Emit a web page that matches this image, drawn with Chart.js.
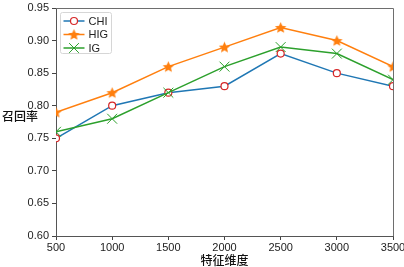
<!DOCTYPE html>
<html lang="zh">
<head>
<meta charset="UTF-8">
<title>召回率 - 特征维度</title>
<script src="https://cdn.jsdelivr.net/npm/chart.js"></script>
<style>
  html, body { margin: 0; padding: 0; background: #fff; }
  #wrap { width: 404px; height: 267px; }
</style>
</head>
<body>
<div id="wrap"><canvas id="chart" width="404" height="267"></canvas></div>
<script>
const dims = [500, 1000, 1500, 2000, 2500, 3000, 3500];
const chiVals = [0.75, 0.80, 0.82, 0.83, 0.88, 0.85, 0.83];
const higVals = [0.79, 0.82, 0.86, 0.89, 0.92, 0.90, 0.86];
const igVals  = [0.76, 0.78, 0.82, 0.86, 0.89, 0.88, 0.84];
const seriesNames = ['CHI', 'HIG', 'IG'];
const yTicks = [0.60, 0.65, 0.70, 0.75, 0.80, 0.85, 0.90, 0.95];
const xTicks = [500, 1000, 1500, 2000, 2500, 3000, 3500];

const tickFont = { family: 'Liberation Sans', size: 11 };
const cjkFont = '500 12px "Noto Sans CJK SC"';

// filled star marker like matplotlib's '*'
function makeStar(size, color) {
  const c = document.createElement('canvas');
  c.width = size; c.height = size;
  const g = c.getContext('2d');
  const r = size / 2, ri = r * 0.42;
  g.beginPath();
  for (let i = 0; i < 10; i++) {
    const rad = i % 2 ? ri : r - 0.5;
    const a = -Math.PI / 2 + i * Math.PI / 5;
    const px = r + rad * Math.cos(a), py = r + rad * Math.sin(a) + 0.5;
    i ? g.lineTo(px, py) : g.moveTo(px, py);
  }
  g.closePath();
  g.fillStyle = color;
  g.fill();
  return c;
}
const starImg = makeStar(13, '#ff7f0e');

const pairs = vals => dims.map((d, i) => ({ x: d, y: vals[i] }));

const datasets = [
  { label: seriesNames[0], data: pairs(chiVals), borderColor: '#1f77b4', borderWidth: 1.5,
    pointStyle: 'circle', pointRadius: 3.5, pointBackgroundColor: '#fff',
    pointBorderColor: '#d62728', pointBorderWidth: 1.2, order: 3 },
  { label: seriesNames[1], data: pairs(higVals), borderColor: '#ff7f0e', borderWidth: 1.5,
    pointStyle: starImg, pointRadius: 6, order: 2 },
  { label: seriesNames[2], data: pairs(igVals), borderColor: '#2ca02c', borderWidth: 1.5,
    pointStyle: 'crossRot', pointRadius: 7, pointBorderColor: '#2ca02c',
    pointBorderWidth: 1, order: 1 }
];

function drawMarker(ctx, ds, x, y) {
  ctx.save();
  if (ds.pointStyle === 'circle') {
    ctx.beginPath();
    ctx.arc(x, y, ds.pointRadius, 0, Math.PI * 2);
    ctx.fillStyle = ds.pointBackgroundColor;
    ctx.fill();
    ctx.lineWidth = ds.pointBorderWidth;
    ctx.strokeStyle = ds.pointBorderColor;
    ctx.stroke();
  } else if (ds.pointStyle === 'crossRot') {
    const r = ds.pointRadius * 0.7;
    ctx.beginPath();
    ctx.moveTo(x - r, y - r); ctx.lineTo(x + r, y + r);
    ctx.moveTo(x + r, y - r); ctx.lineTo(x - r, y + r);
    ctx.lineWidth = ds.pointBorderWidth;
    ctx.strokeStyle = ds.pointBorderColor;
    ctx.stroke();
  } else {
    const s = ds.pointStyle;
    ctx.drawImage(s, x - s.width / 2, y - s.height / 2);
  }
  ctx.restore();
}

const decorations = {
  id: 'decorations',
  afterDatasetsDraw(chart) {
    const { ctx, chartArea: a } = chart;
    ctx.save();
    // top and right spines
    ctx.strokeStyle = '#6e6e6e';
    ctx.lineWidth = 1;
    ctx.beginPath();
    ctx.moveTo(a.left, a.top + 0.5); ctx.lineTo(a.right + 0.5, a.top + 0.5);
    ctx.lineTo(a.right + 0.5, a.bottom);
    ctx.stroke();

    // legend box
    const bx = a.left + 4.5, by = a.top + 4.5, bw = 51, bh = 41;
    ctx.beginPath();
    ctx.roundRect(bx, by, bw, bh, 2);
    ctx.fillStyle = 'rgba(255,255,255,0.85)';
    ctx.fill();
    ctx.strokeStyle = '#d6d6d6';
    ctx.stroke();
    chart.data.datasets.forEach((ds, i) => {
      const y = by + 8.5 + i * 13.5;
      ctx.beginPath();
      ctx.moveTo(bx + 3, y); ctx.lineTo(bx + 24, y);
      ctx.strokeStyle = ds.borderColor;
      ctx.lineWidth = ds.borderWidth;
      ctx.stroke();
      drawMarker(ctx, ds, bx + 13.5, y);
      ctx.fillStyle = '#222';
      ctx.font = '11px "Liberation Sans"';
      ctx.textBaseline = 'middle';
      ctx.textAlign = 'left';
      ctx.fillText(ds.label, bx + 28, y + 0.5);
    });

    // axis titles
    ctx.fillStyle = '#111';
    ctx.font = cjkFont;
    ctx.textAlign = 'center';
    ctx.textBaseline = 'middle';
    ctx.fillText('特征维度', (a.left + a.right) / 2, 260);
    ctx.textAlign = 'left';
    ctx.fillText('召回率', 2, 116);
    ctx.restore();
  }
};

new Chart(document.getElementById('chart'), {
  type: 'line',
  data: { datasets },
  options: {
    responsive: false,
    animation: false,
    layout: { padding: { top: 7, right: 11, left: 0, bottom: 0 } },
    plugins: { legend: { display: false }, tooltip: { enabled: false } },
    elements: { line: { tension: 0 } },
    scales: {
      x: {
        type: 'linear', min: 500, max: 3500,
        afterBuildTicks: s => { s.ticks = xTicks.map(v => ({ value: v })); },
        afterFit: s => { s.height = 31; s.paddingLeft = 0; s.paddingRight = 0; },
        ticks: { font: tickFont, color: '#222', padding: 1, maxRotation: 0,
                 callback: v => String(v) },
        grid: { drawOnChartArea: false, drawTicks: true, tickLength: 4, color: '#444' },
        border: { display: true, color: '#555', width: 1 }
      },
      y: {
        min: 0.60, max: 0.95,
        afterBuildTicks: s => { s.ticks = yTicks.map(v => ({ value: v })); },
        afterFit: s => { s.width = 56; s.paddingTop = 0; s.paddingBottom = 0; },
        ticks: { font: tickFont, color: '#222', padding: 3,
                 callback: v => Number(v).toFixed(2) },
        grid: { drawOnChartArea: false, drawTicks: true, tickLength: 4, color: '#444' },
        border: { display: true, color: '#555', width: 1 }
      }
    }
  },
  plugins: [decorations]
});
</script>
</body>
</html>
